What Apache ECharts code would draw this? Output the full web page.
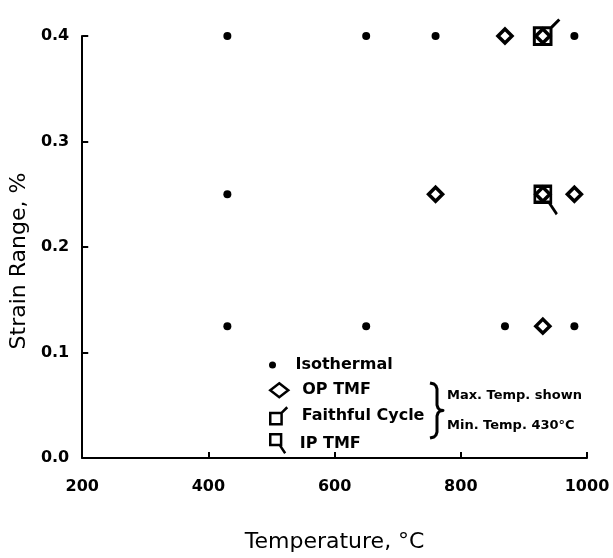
<!DOCTYPE html>
<html>
<head>
<meta charset="utf-8">
<script src="https://cdn.jsdelivr.net/npm/echarts@6/dist/echarts.min.js"></script>
<style>
  html, body { margin: 0; padding: 0; background: #fff; }
  #chart { width: 613px; height: 558px; }
</style>
</head>
<body>
<div id="chart"></div>
<script>
// 温度 (°C) / 应变范围 (%)
var xTicks = [200, 400, 600, 800, 1000];
var yTicks = [0.0, 0.1, 0.2, 0.3, 0.4];

var isoTemp   = [430, 650, 760, 980, 430, 430, 650, 870, 980];
var isoStrain = [0.40, 0.40, 0.40, 0.40, 0.25, 0.125, 0.125, 0.125, 0.125];

var opTemp    = [870, 760, 980, 930, 930, 930];
var opStrain  = [0.40, 0.25, 0.25, 0.125, 0.40, 0.25];

var faithTemp   = [930];
var faithStrain = [0.40];

var ipTemp   = [930];
var ipStrain = [0.25];

var seriesNames = ['Isothermal', 'OP TMF', 'Faithful Cycle', 'IP TMF'];
var noteLines = ['Max. Temp. shown', 'Min. Temp. 430°C'];

// 方框带尾巴的符号
var faithPath = 'path://M0,8H16V24H0ZM16,8L24,0';
var ipPath = 'path://M0,0H16V16H0ZM14,16L22,28';

function pairs(xs, ys) {
    return xs.map(function (x, i) { return [x, ys[i]]; });
}

var chart = echarts.init(document.getElementById('chart'));

var labelFont = { color: '#000', fontFamily: 'DejaVu Sans', fontWeight: 'bold', fontSize: 16 };
var legendText = { color: '#000', fontFamily: 'DejaVu Sans', fontWeight: 'bold', fontSize: 16, padding: [0, 0, 0, 9] };
var titleFont = { color: '#000', fontFamily: 'DejaVu Sans', fontSize: 22 };

function oneLegend(name, top, w, h, icon, style) {
    return {
        data: [{ name: name, icon: icon }],
        left: 264,
        top: top,
        orient: 'vertical',
        itemWidth: w,
        itemHeight: h,
        selectedMode: false,
        textStyle: legendText,
        itemStyle: style
    };
}

// 大括号
var bracePts = [[0, 0], [4, 1], [6, 3], [7, 6], [7, 22], [8, 25], [10, 27], [13, 27.5],
                [10, 28], [8, 30], [7, 33], [7, 49], [6, 52], [4, 54], [0, 55]];

var option = {
    animation: false,
    backgroundColor: '#fff',
    grid: { left: 81, right: 26, top: 36, bottom: 96 },
    xAxis: {
        type: 'value',
        min: xTicks[0],
        max: xTicks[xTicks.length - 1],
        interval: 200,
        name: 'Temperature, °C',
        nameLocation: 'middle',
        nameGap: 73,
        nameTextStyle: titleFont,
        axisLine: { lineStyle: { color: '#000', width: 2 } },
        axisTick: { inside: true, length: 6, lineStyle: { color: '#000', width: 2 } },
        axisLabel: Object.assign({ margin: 21, formatter: function (v) { return String(v); } }, labelFont),
        splitLine: { show: false }
    },
    yAxis: {
        type: 'value',
        min: yTicks[0],
        max: yTicks[yTicks.length - 1],
        interval: 0.1,
        name: 'Strain Range, %',
        nameLocation: 'middle',
        nameGap: 45,
        nameTextStyle: Object.assign({ padding: [0, 28, 0, 0] }, titleFont),
        axisLine: { lineStyle: { color: '#000', width: 2 } },
        axisTick: { inside: true, length: 6, lineStyle: { color: '#000', width: 2 } },
        axisLabel: Object.assign({ margin: 13, formatter: function (v) { return v.toFixed(1); } }, labelFont),
        splitLine: { show: false }
    },
    legend: [
        oneLegend(seriesNames[0], 352, 18, 7, 'circle', { color: '#000', borderWidth: 0, opacity: 1 }),
        oneLegend(seriesNames[1], 377, 18, 14, 'diamond', { color: '#fff', borderColor: '#000', borderWidth: 2.5, opacity: 1 }),
        oneLegend(seriesNames[2], 401, 18, 17, faithPath, { color: 'rgba(0,0,0,0)', borderColor: '#000', borderWidth: 2.5, opacity: 1 }),
        oneLegend(seriesNames[3], 428, 16, 19, ipPath, { color: 'rgba(0,0,0,0)', borderColor: '#000', borderWidth: 2.5, opacity: 1 })
    ],
    graphic: [
        {
            type: 'polyline', x: 430, y: 383,
            shape: { points: bracePts },
            style: { fill: null, stroke: '#000', lineWidth: 3, lineJoin: 'round' }
        },
        {
            type: 'text', left: 447, top: 389,
            style: { text: noteLines[0], fontFamily: 'DejaVu Sans', fontWeight: 'bold', fontSize: 13, fill: '#000' }
        },
        {
            type: 'text', left: 447, top: 419,
            style: { text: noteLines[1], fontFamily: 'DejaVu Sans', fontWeight: 'bold', fontSize: 13, fill: '#000' }
        }
    ],
    series: [
        {
            name: seriesNames[0],
            type: 'scatter',
            symbol: 'circle',
            symbolSize: 8,
            itemStyle: { color: '#000', opacity: 1 },
            data: pairs(isoTemp, isoStrain),
            z: 3
        },
        {
            name: seriesNames[2],
            type: 'scatter',
            symbol: faithPath,
            symbolSize: 25,
            symbolOffset: [4, -4],
            itemStyle: { color: 'rgba(0,0,0,0)', borderColor: '#000', borderWidth: 3, opacity: 1 },
            data: pairs(faithTemp, faithStrain),
            z: 2
        },
        {
            name: seriesNames[3],
            type: 'scatter',
            symbol: ipPath,
            symbolSize: [22, 28],
            symbolOffset: [3, 6],
            itemStyle: { color: 'rgba(0,0,0,0)', borderColor: '#000', borderWidth: 3, opacity: 1 },
            data: pairs(ipTemp, ipStrain),
            z: 2
        },
        {
            name: seriesNames[1],
            type: 'scatter',
            symbol: 'diamond',
            symbolSize: 14,
            itemStyle: { color: '#fff', borderColor: '#000', borderWidth: 3.5, opacity: 1 },
            data: pairs(opTemp, opStrain),
            z: 4
        }
    ]
};

chart.setOption(option);
</script>
</body>
</html>
